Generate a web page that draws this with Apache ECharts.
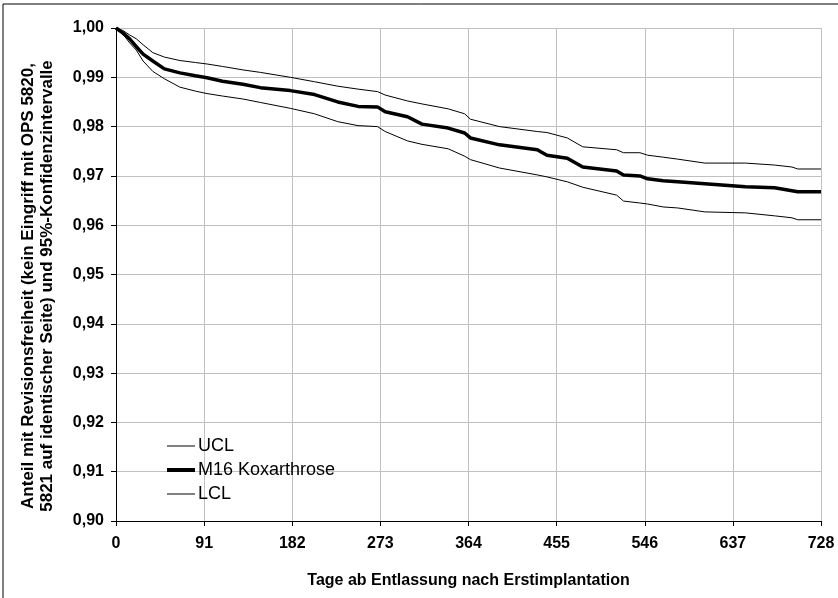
<!DOCTYPE html>
<html>
<head>
<meta charset="utf-8">
<script src="https://cdn.jsdelivr.net/npm/echarts@6/dist/echarts.min.js"></script>
<style>
  html, body { margin: 0; padding: 0; background: #fff; }
  #chart { width: 838px; height: 598px; }
</style>
</head>
<body>
<div id="chart"></div>
<script>

// Tage ab Entlassung (Stuetzstellen)
var days = [0, 7, 14, 21, 28, 38, 50, 66, 82, 94, 110, 131, 149, 180, 205, 229, 250, 270, 278, 301,
            316, 343, 360, 366, 396, 435, 445, 466, 482, 517, 524, 541, 549, 565, 580, 608, 650, 680, 698, 704, 728];

var ucl = [1.0000, 0.9995, 0.9986, 0.9978, 0.9966, 0.9950, 0.9941, 0.9934, 0.9930, 0.9927, 0.9922, 0.9915, 0.9910, 0.9900, 0.9891, 0.9882, 0.9876, 0.9871, 0.9864, 0.9852,
           0.9846, 0.9836, 0.9826, 0.9815, 0.9800, 0.9790, 0.9788, 0.9777, 0.9759, 0.9753, 0.9747, 0.9747, 0.9742, 0.9738, 0.9734, 0.9726, 0.9726, 0.9722, 0.9718, 0.9714, 0.9714];

var m16 = [1.0000, 0.9990, 0.9978, 0.9962, 0.9947, 0.9933, 0.9917, 0.9909, 0.9903, 0.9899, 0.9892, 0.9886, 0.9879, 0.9873, 0.9865, 0.9850, 0.9841, 0.9840, 0.9830, 0.9820,
           0.9805, 0.9797, 0.9787, 0.9777, 0.9763, 0.9753, 0.9742, 0.9736, 0.9718, 0.9710, 0.9702, 0.9700, 0.9694, 0.9690, 0.9688, 0.9684, 0.9678, 0.9676, 0.9670, 0.9668, 0.9668];

var lcl = [1.0000, 0.9988, 0.9970, 0.9955, 0.9933, 0.9912, 0.9897, 0.9880, 0.9872, 0.9867, 0.9862, 0.9856, 0.9849, 0.9837, 0.9826, 0.9810, 0.9802, 0.9800, 0.9790, 0.9771,
           0.9764, 0.9755, 0.9740, 0.9733, 0.9716, 0.9702, 0.9698, 0.9688, 0.9677, 0.9661, 0.9649, 0.9645, 0.9643, 0.9637, 0.9635, 0.9627, 0.9625, 0.9619, 0.9615, 0.9611, 0.9611];

var seriesNames = ['UCL', 'M16 Koxarthrose', 'LCL'];
var yTitle = 'Anteil mit Revisionsfreiheit (kein Eingriff mit OPS 5820,\n5821 auf identischer Seite) und 95%-Konfidenzintervalle';
var xTitle = 'Tage ab Entlassung nach Erstimplantation';

function pairs(vals) {
  var out = [];
  for (var i = 0; i < days.length; i++) {
    out.push([days[i], vals[i]]);
  }
  return out;
}

var font = 'Liberation Sans, Arial, sans-serif';
var lineWidths = [1, 4, 1];
var chart = echarts.init(document.getElementById('chart'));

chart.setOption({
  animation: false,
  backgroundColor: '#ffffff',
  grid: { left: 116, right: 17, top: 28, bottom: 77 },

  legend: {
    orient: 'vertical',
    left: 160,
    top: 432,
    itemWidth: 28,
    itemHeight: 14,
    itemGap: 6,
    data: seriesNames.map(function (n, i) {
      return { name: n, lineStyle: { color: '#000', width: lineWidths[i] } };
    }),
    itemStyle: { color: 'rgba(0,0,0,0)', borderWidth: 0 },
    textStyle: { color: '#000', fontSize: 18, fontFamily: font, padding: [0, 0, 0, -2] }
  },

  xAxis: {
    type: 'value',
    min: 0,
    max: 728,
    interval: 91,
    name: xTitle,
    nameLocation: 'middle',
    nameGap: 52,
    nameTextStyle: { color: '#000', fontSize: 16, fontWeight: 'bold', fontFamily: font },
    axisLine: { lineStyle: { color: '#000', width: 1 } },
    axisTick: { show: true, length: 5, lineStyle: { color: '#000' } },
    axisLabel: { color: '#000', fontSize: 16, fontWeight: 'bold', fontFamily: font, margin: 15 },
    splitLine: { show: true, lineStyle: { color: '#c0c0c0', width: 1 } }
  },

  yAxis: {
    type: 'value',
    min: 0.90,
    max: 1.00,
    interval: 0.01,
    axisLine: { show: true, lineStyle: { color: '#000', width: 1 } },
    axisTick: { show: true, length: 5, lineStyle: { color: '#000' } },
    axisLabel: {
      color: '#000', fontSize: 16, fontWeight: 'bold', fontFamily: font, margin: 12,
      formatter: function (v) { return v.toFixed(2).replace('.', ','); }
    },
    splitLine: { show: true, lineStyle: { color: '#c0c0c0', width: 1 } }
  },

  graphic: [
    { type: 'line', shape: { x1: 3, y1: 4, x2: 838, y2: 4 }, style: { stroke: '#000', lineWidth: 1 } },
    { type: 'line', shape: { x1: 3, y1: 4, x2: 3, y2: 598 }, style: { stroke: '#000', lineWidth: 1 } },
    {
      type: 'text',
      x: 38,
      y: 286,
      rotation: Math.PI / 2,
      style: {
        text: yTitle,
        fill: '#000',
        font: 'bold 17px ' + font,
        lineHeight: 19,
        align: 'center',
        verticalAlign: 'middle'
      }
    }
  ],

  series: [
    {
      name: 'UCL',
      type: 'line',
      symbol: 'none',
      lineStyle: { color: '#000', width: lineWidths[0] },
      itemStyle: { color: '#000' },
      data: pairs(ucl)
    },
    {
      name: 'M16 Koxarthrose',
      type: 'line',
      symbol: 'none',
      lineStyle: { color: '#000', width: 3.5 },
      itemStyle: { color: '#000' },
      data: pairs(m16)
    },
    {
      name: 'LCL',
      type: 'line',
      symbol: 'none',
      lineStyle: { color: '#000', width: lineWidths[2] },
      itemStyle: { color: '#000' },
      data: pairs(lcl)
    }
  ]
});
</script>
</body>
</html>
